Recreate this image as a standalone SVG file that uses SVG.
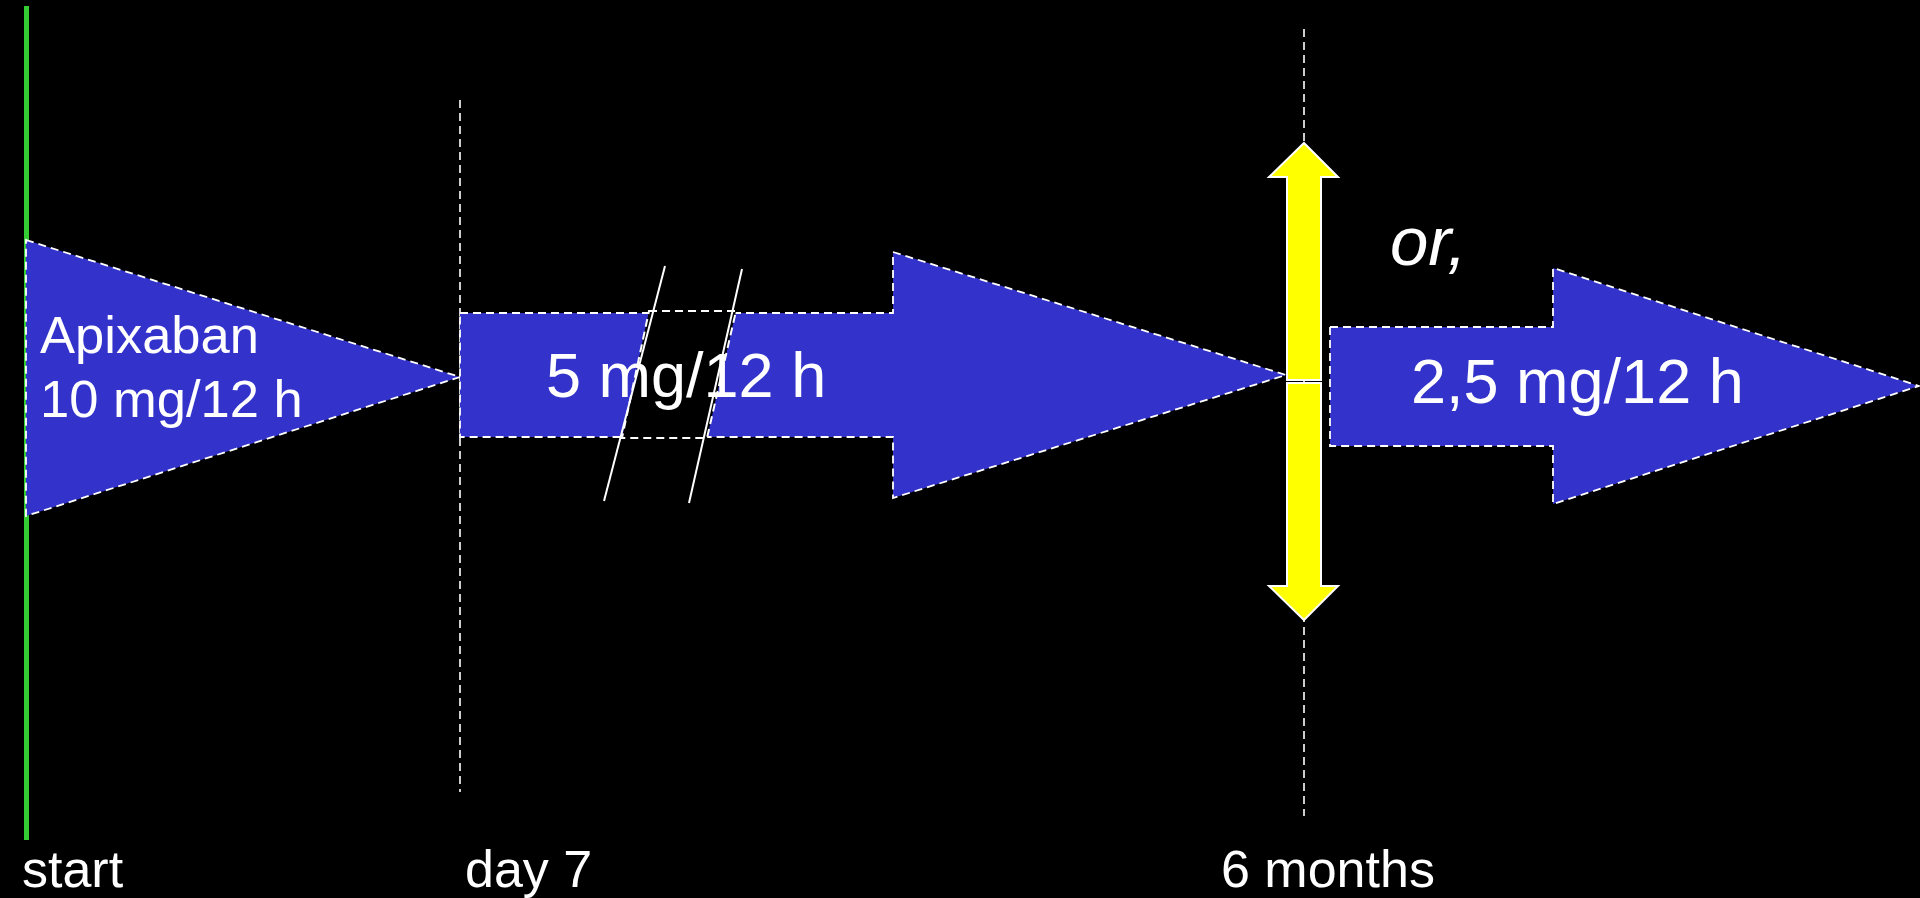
<svg xmlns="http://www.w3.org/2000/svg" width="1920" height="898" viewBox="0 0 1920 898">
<style>
.bg{fill:#000}
.blue{fill:#3333CC;stroke:#fff;stroke-width:1.8;stroke-dasharray:8 5}
.guide{stroke:#fff;stroke-width:1.6;stroke-dasharray:8 5;fill:none}
.brk{fill:#000;stroke:#fff;stroke-width:2;stroke-dasharray:8 5}
.slash{stroke:#fff;stroke-width:2;fill:none}
.yel{fill:#FFFF00;stroke:#fff;stroke-width:2}
.t{font-family:"Liberation Sans",Arial,sans-serif;fill:#fff}
</style>
<rect class="bg" x="0" y="0" width="1920" height="898"/>
<g id="guides">
<line class="guide" x1="460" y1="100" x2="460" y2="792"/>
<line class="guide" x1="1304" y1="29" x2="1304" y2="816"/>
<line x1="26.5" y1="6" x2="26.5" y2="840" stroke="#33CC33" stroke-width="5"/>
</g>
<g id="loading-dose">
<polygon class="blue" points="26,240 460,377 26,516"/>
<text class="t" x="40" y="353" font-size="52.5">Apixaban</text>
<text class="t" x="40" y="417" font-size="52.5">10 mg/12 h</text>
</g>
<g id="maintenance">
<polygon class="blue" points="460,313 893,313 893,252 1286,375 893,498 893,437 460,437"/>
<polygon class="brk" points="649,311 736,311 707,438 622,438"/>
<line class="slash" x1="665" y1="266" x2="604" y2="501"/>
<line class="slash" x1="742" y1="269" x2="689" y2="503"/>
<text class="t" x="546" y="397" font-size="63">5 mg/12 h</text>
</g>
<g id="decision">
<polygon class="yel" points="1304,143 1338,177 1321,177 1321,380 1287,380 1287,177 1269,177"/>
<polygon class="yel" points="1304,620 1338,586 1321,586 1321,383 1287,383 1287,586 1269,586"/>
<text class="t" x="1390" y="265" font-size="69" font-style="italic">or,</text>
</g>
<g id="reduced-dose">
<polygon class="blue" points="1330,327 1553,327 1553,268 1919,386 1553,504 1553,446 1330,446"/>
<text class="t" x="1411" y="403" font-size="63">2,5 mg/12 h</text>
</g>
<g id="labels">
<text class="t" x="22" y="887" font-size="52">start</text>
<text class="t" x="465" y="887" font-size="52">day 7</text>
<text class="t" x="1221" y="887" font-size="52">6 months</text>
</g>
</svg>
